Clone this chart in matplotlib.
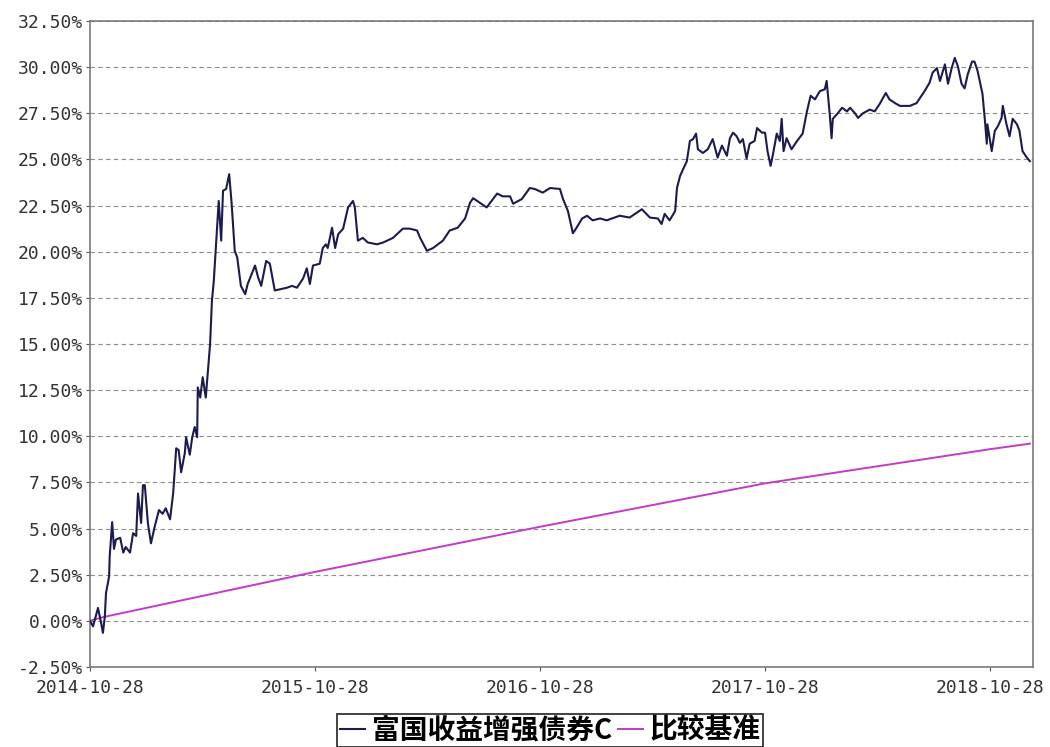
import matplotlib
matplotlib.use("Agg")
import matplotlib.pyplot as plt
import numpy as np
from matplotlib.ticker import FuncFormatter, MultipleLocator

plt.rcParams["font.family"] = ["Noto Sans CJK SC", "DejaVu Sans"]

start_date = np.datetime64("2014-10-28")
end_date = np.datetime64("2019-01-06")

# days after 2014-10-28, cumulative return in %
fund_days = [
    0, 5, 13, 18, 21, 24, 26, 31, 32, 36, 39, 42, 49, 54, 58, 65, 70, 75, 78, 83,
    86, 89, 94, 99, 105, 112, 118, 123, 130, 135, 140, 144, 148, 154, 156, 162, 166, 170, 174, 175,
    179, 183, 188, 195, 198, 201, 205, 209, 213, 216, 221, 226, 230, 235, 239, 245, 252, 256, 268, 273,
    278, 286, 292, 300, 320, 328, 336, 346, 352, 357, 362, 373, 378, 383, 386, 393, 398, 403, 411, 419,
    427, 430, 435, 443, 451, 466, 476, 492, 508, 519, 531, 536, 547, 557, 573, 584, 597, 609, 617, 622,
    633, 644, 661, 670, 682, 687, 701, 714, 722, 735, 747, 763, 768, 776, 784, 790, 799, 807, 816, 828,
    839, 860, 876, 896, 909, 922, 928, 933, 941, 950, 953, 958, 962, 969, 974, 979, 984, 987, 995, 1003,
    1011, 1019, 1026, 1034, 1039, 1044, 1050, 1055, 1060, 1066, 1071, 1079, 1083, 1091, 1096, 1100, 1105, 1109, 1115, 1120,
    1123, 1126, 1131, 1139, 1148, 1157, 1164, 1170, 1177, 1185, 1193, 1196, 1201, 1204, 1206, 1214, 1221, 1229, 1234, 1242,
    1247, 1255, 1266, 1274, 1282, 1292, 1298, 1307, 1315, 1331, 1342, 1347, 1355, 1363, 1368, 1375, 1380, 1388, 1393, 1399,
    1404, 1409, 1415, 1420, 1425, 1432, 1436, 1441, 1448, 1449, 1453, 1456, 1457, 1464, 1469, 1474, 1480, 1482, 1488, 1493,
    1498, 1505, 1509, 1514, 1521, 1526,
]
fund_values = [
    0.0, -0.3, 0.7, -0.1, -0.65, 0.2, 1.5, 2.4, 3.5, 5.35, 3.9, 4.4, 4.5, 3.7, 4.0, 3.7, 4.75, 4.6, 6.9, 5.3,
    7.35, 7.35, 5.3, 4.2, 5.1, 6.0, 5.8, 6.1, 5.5, 6.9, 9.35, 9.25, 8.05, 9.1, 9.95, 9.0, 9.95, 10.5, 9.95, 12.65,
    12.1, 13.2, 12.1, 15.0, 17.35, 18.4, 20.6, 22.75, 20.6, 23.3, 23.4, 24.2, 22.6, 20.05, 19.7, 18.15, 17.7, 18.25, 19.25, 18.6,
    18.15, 19.5, 19.35, 17.9, 18.05, 18.15, 18.05, 18.55, 19.1, 18.25, 19.25, 19.35, 20.2, 20.4, 20.2, 21.3, 20.2, 20.95, 21.25, 22.4,
    22.75, 22.4, 20.6, 20.75, 20.5, 20.4, 20.5, 20.75, 21.25, 21.25, 21.15, 20.75, 20.05, 20.2, 20.6, 21.15, 21.3, 21.8, 22.65, 22.9,
    22.65, 22.4, 23.15, 23.0, 23.0, 22.6, 22.85, 23.45, 23.4, 23.2, 23.45, 23.4, 22.85, 22.2, 21.0, 21.3, 21.8, 21.95, 21.7, 21.8,
    21.7, 21.95, 21.85, 22.3, 21.85, 21.8, 21.5, 22.05, 21.7, 22.2, 23.45, 24.1, 24.4, 24.9, 26.0, 26.1, 26.4, 25.55, 25.35, 25.55,
    26.1, 25.1, 25.75, 25.2, 26.15, 26.45, 26.25, 25.9, 26.1, 25.05, 25.85, 26.0, 26.7, 26.45, 26.45, 25.45, 24.65, 25.3, 26.4, 26.0,
    27.2, 25.45, 26.15, 25.55, 26.0, 26.4, 27.6, 28.45, 28.25, 28.7, 28.8, 29.25, 27.45, 26.15, 27.2, 27.5, 27.8, 27.6, 27.8, 27.5,
    27.25, 27.5, 27.7, 27.6, 28.0, 28.6, 28.25, 28.05, 27.9, 27.9, 28.05, 28.3, 28.7, 29.15, 29.7, 29.95, 29.25, 30.15, 29.1, 29.95,
    30.5, 30.05, 29.1, 28.85, 29.6, 30.3, 30.3, 29.8, 28.7, 28.55, 27.1, 25.85, 26.9, 25.45, 26.55, 26.8, 27.25, 27.9, 26.9, 26.25,
    27.2, 26.9, 26.55, 25.45, 25.1, 24.9,
]

bench_days = [0, 21, 365, 731, 1096, 1461, 1526]
bench_values = [0.0, 0.2, 2.65, 5.1, 7.45, 9.3, 9.6]

tick_labels = ["2014-10-28", "2015-10-28", "2016-10-28", "2017-10-28", "2018-10-28"]

fund_dates = start_date + np.array(fund_days).astype("timedelta64[D]")
bench_dates = start_date + np.array(bench_days).astype("timedelta64[D]")

fig = plt.figure(figsize=(10.5, 7.47), dpi=100)
ax = fig.add_axes([0.0857, 0.1071, 0.8981, 0.8648])

ax.plot(bench_dates, bench_values, color="#c03cc8", lw=1.4, label="比较基准", zorder=2)
ax.plot(fund_dates, fund_values, color="#1b1b4f", lw=1.5, label="富国收益增强债券C", zorder=3)

ax.set_xlim(start_date, end_date)
ax.set_ylim(-2.5, 32.5)
ax.yaxis.set_major_locator(MultipleLocator(2.5))
ax.yaxis.set_major_formatter(FuncFormatter(lambda v, p: f"{v:.2f}%"))
ax.grid(axis="y", color="#8c8c8c", ls=(0, (4, 3)), lw=0.8)

tick_dates = [np.datetime64(t) for t in tick_labels]
ax.set_xticks(tick_dates)
ax.set_xticklabels(tick_labels)

for s in ax.spines.values():
    s.set_color("#7a7a7a")
    s.set_linewidth(1.2)

ax.tick_params(axis="both", colors="#555555", labelcolor="#333333", labelsize=13, length=3)
ax.tick_params(axis="y", pad=2)
ax.tick_params(axis="x", pad=6)
for lab in ax.get_xticklabels() + ax.get_yticklabels():
    lab.set_family("DejaVu Sans Mono")

handles, labels = ax.get_legend_handles_labels()
leg = fig.legend(handles[::-1], labels[::-1], loc="lower center", bbox_to_anchor=(0.524, -0.004),
                 ncol=2, frameon=True, fancybox=False, handlelength=0.9, handletextpad=0.25,
                 columnspacing=0.2, borderpad=0.1, borderaxespad=0.1,
                 prop={"family": ["Noto Sans CJK SC", "DejaVu Sans"], "size": 20, "weight": "bold"})
leg.get_frame().set_edgecolor("black")
leg.get_frame().set_linewidth(1.3)

fig.savefig("out.png", dpi=100)
